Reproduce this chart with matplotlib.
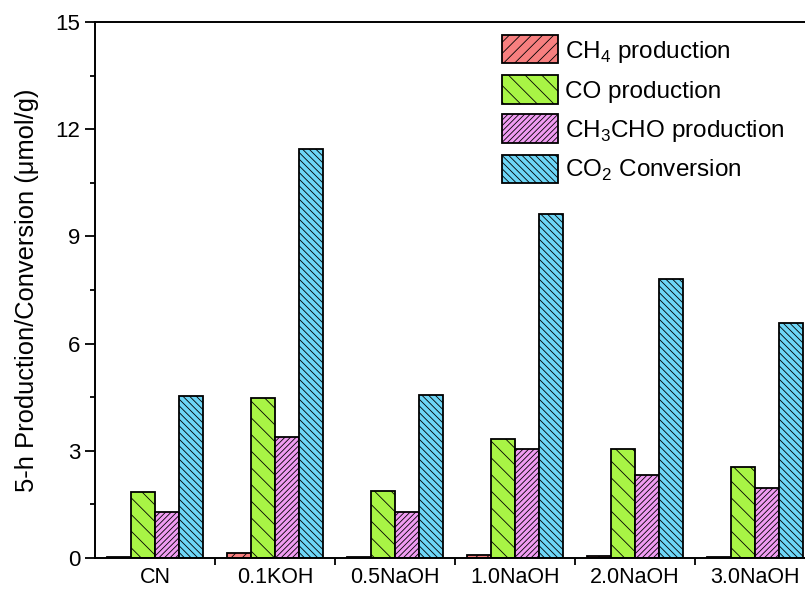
import numpy as np
import matplotlib
matplotlib.use("Agg")
import matplotlib.pyplot as plt

plt.rcParams["font.family"] = ["Liberation Sans", "DejaVu Sans"]
plt.rcParams["hatch.linewidth"] = 0.6
plt.rcParams["mathtext.fontset"] = "custom"
plt.rcParams["mathtext.rm"] = "Liberation Sans"

samples = ["CN", "0.1KOH", "0.5NaOH", "1.0NaOH", "2.0NaOH", "3.0NaOH"]
ch4 = [0.04, 0.13, 0.03, 0.08, 0.06, 0.04]
co = [1.86, 4.49, 1.88, 3.32, 3.06, 2.55]
ch3cho = [1.28, 3.38, 1.28, 3.06, 2.31, 1.96]
co2 = [4.53, 11.45, 4.55, 9.62, 7.82, 6.59]

series = [
    (ch4, r"CH$_4$ production", "#F77F7F", "///"),
    (co, "CO production", "#A8F545", "\\\\"),
    (ch3cho, r"CH$_3$CHO production", "#F09CF2", "//////"),
    (co2, r"CO$_2$ Conversion", "#6DD6F7", "\\\\\\\\\\"),
]

fig = plt.figure(figsize=(8.05, 5.89), dpi=100)
ax = fig.add_axes([95 / 805, 31 / 589, 720 / 805, 536 / 589])

x = np.arange(len(samples))
w = 0.2
for i, (vals, lab, col, hatch) in enumerate(series):
    ax.bar(x - 0.4 + w * i, vals, w, align="edge", color=col, edgecolor="black",
           linewidth=1.3, hatch=hatch, label=lab)

ax.set_xlim(-0.5, 5.5)
ax.set_ylim(0, 15)
ax.set_yticks(np.arange(0, 16, 3))
ax.set_yticks(np.arange(1.5, 15, 3), minor=True)
ax.set_xticks(np.arange(0.5, 5.0, 1.0))
ax.set_xticklabels([])
ax.set_xticks(x, minor=True)
ax.set_xticklabels(samples, minor=True, fontsize=15.5)
ax.tick_params(axis="x", which="minor", length=0, pad=6.5)
ax.tick_params(axis="x", which="major", direction="out", length=5, width=1.3)
ax.tick_params(axis="y", which="major", direction="out", length=7, width=1.3, labelsize=16)
ax.tick_params(axis="y", which="minor", direction="out", length=3.6, width=1.3)
for s in ax.spines.values():
    s.set_linewidth(1.4)

ax.set_ylabel("5-h Production/Conversion (\u03bcmol/g)", fontsize=18.4, labelpad=12)

ax.legend(loc="upper left", bbox_to_anchor=(0.565, 0.975), frameon=False, fontsize=17.5,
          handlelength=2.3, handleheight=1.4, labelspacing=0.45, handletextpad=0.3,
          borderpad=0, borderaxespad=0)

fig.savefig("out.png", dpi=100)
